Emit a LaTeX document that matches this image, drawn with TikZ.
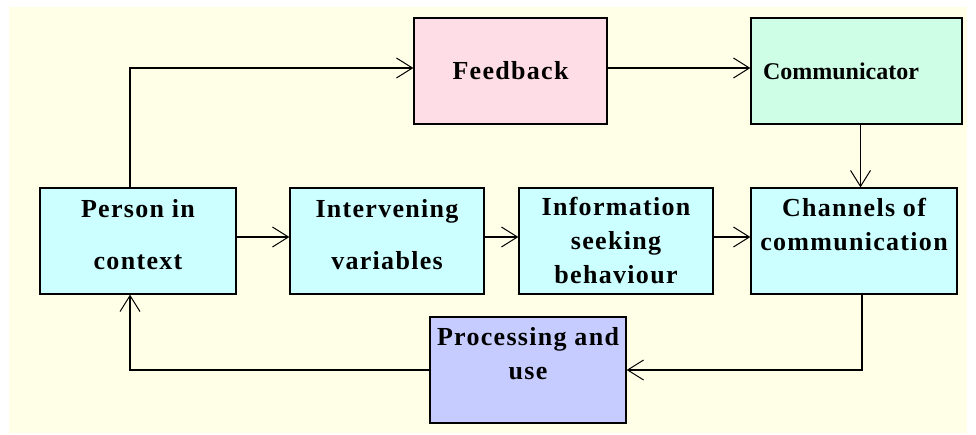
\documentclass[tikz,border=0pt]{standalone}
\usepackage{fontspec}
\setmainfont{Liberation Serif}
\newfontfamily\boxfont[LetterSpace=5]{Liberation Serif}
\usepackage{tikz}
\usetikzlibrary{arrows.meta}

\definecolor{bgyellow}{HTML}{FFFFE8}
\definecolor{boxcyan}{HTML}{CCFFFF}
\definecolor{boxpink}{HTML}{FFDDE6}
\definecolor{boxmint}{HTML}{CEFFE6}
\definecolor{boxblue}{HTML}{C6CCFF}

\begin{document}
\begin{tikzpicture}[x=1pt,y=-1pt,
  box/.style={rectangle,draw,line width=1.3pt,minimum height=106pt,inner sep=0pt,
    align=center,font=\boxfont\bfseries\fontsize{26}{34}\selectfont},
  arr/.style={-{Straight Barb[length=16pt,width=20pt,line width=1pt]},line width=1.3pt}]
  \fill[white] (0,0) rectangle (976,435);
  \fill[bgyellow] (9,7) rectangle (967,433);

  \node at (510.5,71) (feedback) [box,fill=boxpink,minimum width=193pt] {Feedback};
  \node at (856.5,71) (comm) [box,fill=boxmint,minimum width=211pt,text width=187pt,
    align=left,font=\bfseries\fontsize{24}{30}\selectfont] {Communicator};
  \node at (138,241) (person) [box,fill=boxcyan,minimum width=196pt] {Person in\\[18pt]context\\[-20pt]\mbox{}};
  \node at (387,241) (interv) [box,fill=boxcyan,minimum width=194pt] {Intervening\\[18pt]variables\\[-20pt]\mbox{}};
  \node at (616,241) (info) [box,fill=boxcyan,minimum width=194pt] {Information\\seeking\\behaviour};
  \node at (854,241) (channels) [box,fill=boxcyan,minimum width=206pt] {Channels of\\communication\\\mbox{}};
  \node at (528,370) (proc) [box,fill=boxblue,minimum width=196pt] {Processing and\\use\\\mbox{}};

  \path[arr]
        ([xshift=-8pt]person.north) edge[to path={|- (\tikztotarget)}] ([yshift=3pt]feedback.west)
        ([yshift=3pt]feedback.east) edge ([yshift=3pt]feedback.east -| comm.west)
        ([xshift=4pt]comm.south) edge ([xshift=4pt]comm.south |- channels.north)
        ([yshift=4pt]person.east) edge ([yshift=4pt]interv.west)
        ([yshift=4pt]interv.east) edge ([yshift=4pt]info.west)
        ([yshift=4pt]info.east) edge ([yshift=4pt]channels.west)
        ([xshift=8pt]channels.south) edge[to path={|- (\tikztotarget)}] (proc.east)
        (proc.west) edge[to path={-| (\tikztotarget)}] ([xshift=-8pt]person.south)
        ;
\end{tikzpicture}
\end{document}
